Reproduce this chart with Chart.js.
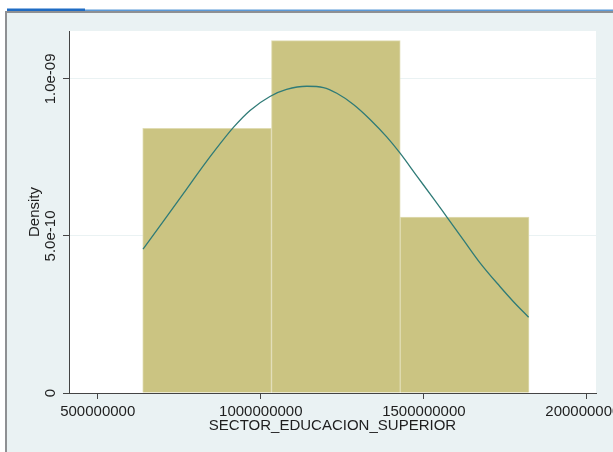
<!DOCTYPE html>
<html>
<head>
<meta charset="utf-8">
<script src="https://cdn.jsdelivr.net/npm/chart.js@4/dist/chart.umd.min.js"></script>
<style>
html,body{margin:0;padding:0;background:#fff;overflow:hidden;}
canvas{display:block;}
</style>
</head>
<body>
<canvas id="c" width="613" height="452"></canvas>
<script>
// ---- data ----
const binEdges = [6.38e8, 1.0327e9, 1.4275e9, 1.8222e9];
const binDensity = [8.43e-10, 1.122e-9, 5.60e-10];

const curveX = [6.39e8, 7.01e8, 7.52e8, 8.03e8, 8.54e8, 9.16e8, 9.67e8, 1.028e9, 1.079e9, 1.141e9, 1.192e9, 1.233e9,
                1.284e9, 1.335e9, 1.386e9, 1.427e9, 1.478e9, 1.529e9, 1.570e9, 1.621e9, 1.672e9, 1.733e9, 1.774e9, 1.821e9];
const curveY = [4.58e-10, 5.465e-10, 6.197e-10, 6.935e-10, 7.65e-10, 8.455e-10, 8.996e-10, 9.441e-10, 9.664e-10, 9.766e-10, 9.724e-10, 9.543e-10,
                9.187e-10, 8.71e-10, 8.153e-10, 7.634e-10, 6.912e-10, 6.197e-10, 5.608e-10, 4.876e-10, 4.145e-10, 3.391e-10, 2.914e-10, 2.411e-10];

const xTickValues = [5e8, 1e9, 1.5e9, 2e9];
const xTickLabels = ['500000000', '1000000000', '1500000000', '2000000000'];
const yTickValues = [0, 5e-10, 1e-9];
const yTickLabels = ['0', '5.0e-10', '1.0e-09'];

const xRange = [4.12e8, 2.0276e9];
const yRange = [0, 1.1525e-9];

const xTitle = 'SECTOR_EDUCACION_SUPERIOR';
const yTitle = 'Density';

// ---- build datasets ----
const barData = binDensity.map((d, i) => ({ x: (binEdges[i] + binEdges[i + 1]) / 2, y: d }));
const curveData = curveX.map((x, i) => ({ x: x, y: curveY[i] }));

const FONT = { family: "'Liberation Sans', Arial, sans-serif", size: 15 };
const TEXT = '#1e1e1e';
const AXIS = '#444444';
const BG = '#eaf2f3';

const framePlugin = {
  id: 'frame',
  beforeDraw(chart) {
    const ctx = chart.ctx;
    const W = chart.width, H = chart.height;
    ctx.save();
    ctx.fillStyle = '#ffffff';
    ctx.fillRect(0, 0, W, H);
    ctx.fillStyle = '#5b9ad8';
    ctx.fillRect(7, 9.5, W - 7, 1.5);
    ctx.fillStyle = '#1f6cc4';
    ctx.fillRect(7, 8.5, 78, 2.5);
    ctx.fillStyle = '#8e9093';
    ctx.fillRect(5, 11, W - 5, 2);
    ctx.fillRect(5, 11, 2, H - 11);
    ctx.fillStyle = BG;
    ctx.fillRect(7, 13, W - 7, H - 13);
    const a = chart.chartArea;
    ctx.fillStyle = '#ffffff';
    ctx.fillRect(a.left, a.top, a.right - a.left, a.bottom - a.top);
    ctx.restore();
  }
};

new Chart(document.getElementById('c'), {
  type: 'bar',
  data: {
    datasets: [
      {
        type: 'line',
        data: curveData,
        borderColor: '#2f7b77',
        borderWidth: 1.3,
        pointRadius: 0,
        fill: false,
        cubicInterpolationMode: 'monotone',
        order: 0
      },
      {
        type: 'bar',
        data: barData,
        backgroundColor: '#cbc482',
        borderColor: '#e0dcb3',
        borderWidth: 1,
        barPercentage: 1,
        categoryPercentage: 1,
        order: 1
      }
    ]
  },
  options: {
    responsive: false,
    devicePixelRatio: 1,
    animation: false,
    events: [],
    layout: { padding: { left: 0, top: 31, right: 17, bottom: 0 } },
    plugins: { legend: { display: false }, tooltip: { enabled: false } },
    scales: {
      x: {
        type: 'linear',
        position: 'bottom',
        min: xRange[0],
        max: xRange[1],
        offset: false,
        afterBuildTicks: s => { s.ticks = xTickValues.map(v => ({ value: v })); },
        afterFit: s => { s.height = 59; s.paddingLeft = 0; s.paddingRight = 0; },
        grid: { display: true, offset: false, drawOnChartArea: false, drawTicks: true, tickLength: 6, tickColor: AXIS, color: 'rgba(0,0,0,0)' },
        border: { display: true, color: AXIS, width: 1 },
        ticks: {
          autoSkip: false, minRotation: 0, maxRotation: 0, padding: 4, color: TEXT, font: FONT,
          callback: (v, i) => xTickLabels[i]
        },
        title: { display: true, text: xTitle, color: TEXT, font: FONT, padding: { top: 0, bottom: 17 } }
      },
      y: {
        type: 'linear',
        position: 'left',
        min: yRange[0],
        max: yRange[1],
        afterBuildTicks: s => { s.ticks = yTickValues.map(v => ({ value: v })); },
        afterFit: s => { s.width = 69; s.paddingTop = 0; s.paddingBottom = 0; },
        grid: {
          display: true, drawOnChartArea: true, drawTicks: true, tickLength: 6, tickColor: AXIS,
          color: c => (c.tick && c.tick.value === 0) ? 'rgba(0,0,0,0)' : BG
        },
        border: { display: true, color: AXIS, width: 1 },
        ticks: {
          autoSkip: false, minRotation: 90, maxRotation: 90, crossAlign: 'center', padding: -13, color: TEXT, font: FONT,
          callback: (v, i) => yTickLabels[i]
        },
        title: { display: true, text: yTitle, color: TEXT, font: FONT, padding: { top: 26, bottom: 0 } }
      }
    }
  },
  plugins: [framePlugin]
});
</script>
</body>
</html>
